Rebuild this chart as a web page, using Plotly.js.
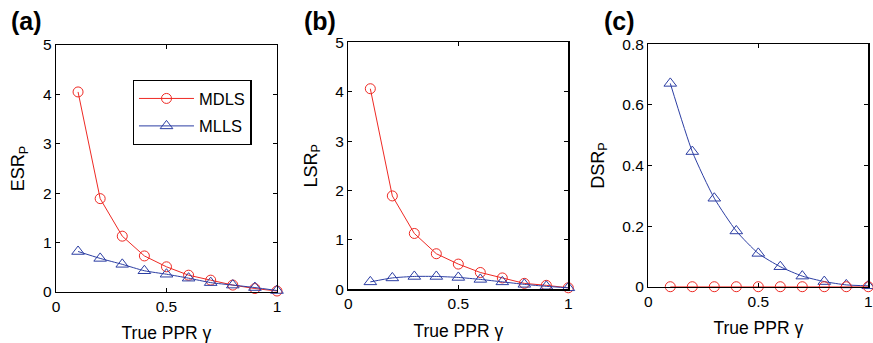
<!DOCTYPE html>
<html>
<head>
<meta charset="utf-8">
<script src="https://cdn.plot.ly/plotly-3.0.1.min.js"></script>
<style>html,body{margin:0;padding:0;background:#fff;}#chart{width:873px;height:343px;}</style>
</head>
<body>
<div id="chart"></div>
<script>
// True PPR gamma
const gamma = [0.1, 0.2, 0.3, 0.4, 0.5, 0.6, 0.7, 0.8, 0.9, 1.0];
// (a) ESR_P
const esrMDLS = [4.05, 1.89, 1.13, 0.73, 0.51, 0.34, 0.24, 0.14, 0.07, 0.02];
const esrMLLS = [0.82, 0.68, 0.56, 0.43, 0.36, 0.28, 0.19, 0.14, 0.09, 0.03];
// (b) LSR_P
const lsrMDLS = [4.06, 1.89, 1.13, 0.72, 0.51, 0.34, 0.23, 0.12, 0.08, 0.03];
const lsrMLLS = [0.15, 0.23, 0.26, 0.26, 0.24, 0.20, 0.15, 0.10, 0.06, 0.03];
// (c) DSR_P
const dsrMDLS = [0, 0, 0, 0, 0, 0, 0, 0, 0, 0];
const dsrMLLS = [0.671, 0.446, 0.292, 0.184, 0.110, 0.066, 0.035, 0.017, 0.006, 0.003];

const seriesNames = ['MDLS', 'MLLS'];
const panelLabels = ['(a)', '(b)', '(c)'];
const yTitles = ['ESR<sub>P</sub>', 'LSR<sub>P</sub>', 'DSR<sub>P</sub>'];
const xTitle = 'True PPR γ';

const RED = '#ee2a24';
const BLUE = '#2c3ea3';
const FONT = 'Liberation Sans, Arial, Helvetica, sans-serif';

function redTrace(y, ax, show) {
  return {x: gamma, y: y, xaxis: 'x' + ax, yaxis: 'y' + ax, name: seriesNames[0], legendgroup: 'g1',
    type: 'scatter', mode: 'lines+markers', showlegend: show, cliponaxis: false,
    line: {color: RED, width: 1},
    marker: {symbol: 'circle-open', size: 10, color: RED, line: {width: 1, color: RED}}};
}
function blueTrace(y, ax, show) {
  return {x: gamma, y: y, xaxis: 'x' + ax, yaxis: 'y' + ax, name: seriesNames[1], legendgroup: 'g2',
    type: 'scatter', mode: 'lines+markers', showlegend: show, cliponaxis: false,
    line: {color: BLUE, width: 1, shape: 'spline', smoothing: 0.6},
    marker: {symbol: 'triangle-up-open', size: 11, color: BLUE, line: {width: 1, color: BLUE}}};
}

const data = [
  redTrace(esrMDLS, '', true), blueTrace(esrMLLS, '', true),
  redTrace(lsrMDLS, '2', false), blueTrace(lsrMLLS, '2', false),
  blueTrace(dsrMLLS, '3', false), redTrace(dsrMDLS, '3', false)
];

function xax(dom, anchor) {
  return {domain: dom, anchor: anchor, range: [0, 1], tickvals: [0, 0.5, 1], ticktext: ['0', '0.5', '1'],
    ticks: 'inside', ticklen: 4, tickcolor: '#000', showline: true, linecolor: '#000', linewidth: 1.3,
    mirror: 'ticks', showgrid: false, zeroline: false, automargin: false,
    tickfont: {family: FONT, size: 15.5, color: '#000'},
    title: {text: xTitle, font: {family: FONT, size: 17.5, color: '#000'}, standoff: 13}};
}
function yax(dom, anchor, range, vals, texts, title) {
  return {domain: dom, anchor: anchor, range: range, tickvals: vals, ticktext: texts,
    ticks: 'inside', ticklen: 4, tickcolor: '#000', showline: true, linecolor: '#000', linewidth: 1.3,
    mirror: 'ticks', showgrid: false, zeroline: false, automargin: false,
    tickfont: {family: FONT, size: 15.5, color: '#000'},
    title: {text: title, font: {family: FONT, size: 18, color: '#000'}, standoff: 13}};
}

const intVals = [0, 1, 2, 3, 4, 5];
const intText = ['0', '1', '2', '3', '4', '5'];
const cVals = [0, 0.2, 0.4, 0.6, 0.8];
const cText = ['0', '0.2', '0.4', '0.6', '0.8'];

const layout = {
  width: 873, height: 343,
  margin: {l: 0, r: 0, t: 0, b: 0},
  paper_bgcolor: '#fff', plot_bgcolor: '#fff',
  font: {family: FONT, color: '#000'},
  xaxis: xax([0.0641, 0.3173], 'y'),
  yaxis: yax([0.1487, 0.8688], 'x', [0, 5], intVals, intText, yTitles[0]),
  xaxis2: xax([0.399, 0.651], 'y2'),
  yaxis2: yax([0.1566, 0.8767], 'x2', [0, 5], intVals, intText, yTitles[1]),
  xaxis3: xax([0.7426, 0.9946], 'y3'),
  yaxis3: yax([0.1641, 0.8708], 'x3', [0, 0.8], cVals, cText, yTitles[2]),
  showlegend: true,
  legend: {x: 0.152, y: 0.767, xanchor: 'left', yanchor: 'top', bgcolor: '#fff',
    bordercolor: '#000', borderwidth: 1.3, font: {family: FONT, size: 16.5, color: '#000'},
    tracegroupgap: 3, itemwidth: 55, entrywidth: 128, entrywidthmode: 'pixels', traceorder: 'grouped'},
  annotations: [
    {text: '<b>' + panelLabels[0] + '</b>', xref: 'paper', yref: 'paper', x: 9 / 873, y: 1 - 21 / 343, xanchor: 'left', yanchor: 'middle', showarrow: false, font: {family: FONT, size: 25, color: '#000'}},
    {text: '<b>' + panelLabels[1] + '</b>', xref: 'paper', yref: 'paper', x: 302 / 873, y: 1 - 21 / 343, xanchor: 'left', yanchor: 'middle', showarrow: false, font: {family: FONT, size: 25, color: '#000'}},
    {text: '<b>' + panelLabels[2] + '</b>', xref: 'paper', yref: 'paper', x: 602 / 873, y: 1 - 21 / 343, xanchor: 'left', yanchor: 'middle', showarrow: false, font: {family: FONT, size: 25, color: '#000'}}
  ]
};

Plotly.newPlot('chart', data, layout, {staticPlot: true, displayModeBar: false});
</script>
</body>
</html>
